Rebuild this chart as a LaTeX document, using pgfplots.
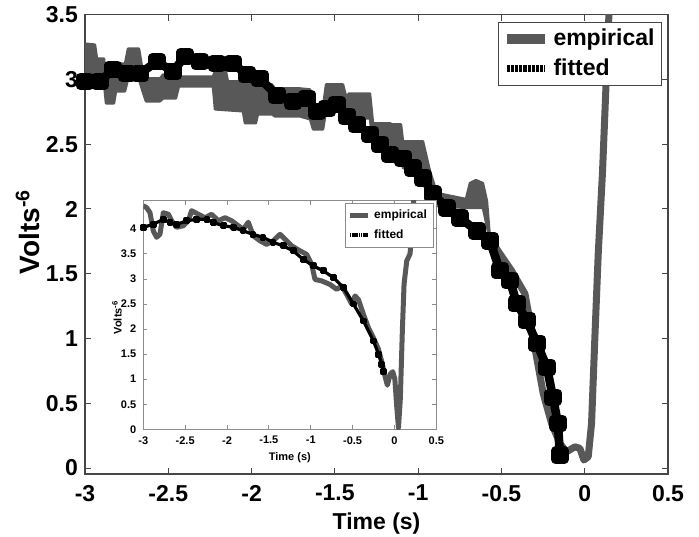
\documentclass[border=0pt]{standalone}
\usepackage{pgfplots}
\pgfplotsset{compat=1.18}
\usepackage{fontspec}
\setmainfont{Liberation Sans}
\definecolor{emp}{RGB}{88,88,88}
\definecolor{frame}{RGB}{70,70,70}
\begin{document}
\begin{tikzpicture}
\path[use as bounding box] (-42.5pt,-31pt) rectangle (307pt,237pt);
% ---------------- main axis ----------------
\begin{axis}[
  at={(0,0)}, anchor=south west,
  scale only axis, width=291.5pt, height=229.65pt,
  xmin=-3, xmax=0.5, ymin=-0.046, ymax=3.5,
  xtick={-3,-2.5,-2,-1.5,-1,-0.5,0,0.5},
  ytick={0,0.5,1,1.5,2,2.5,3,3.5},
  /pgf/number format/assume math mode=true,
  tick align=inside, major tick length=3pt,
  axis line style={frame, line width=0.6pt},
  every tick/.style={frame, line width=0.5pt},
  ticklabel style={font=\fontsize{11.5}{13}\selectfont\bfseries},
  xticklabel style={yshift=-2pt},
  xlabel={Time (s)},
  ylabel={Volts\textsuperscript{-6}},
  xlabel style={font=\fontsize{11.5}{13}\selectfont\bfseries, at={(axis description cs:0.5,-0.107)}, anchor=center},
  ylabel style={font=\fontsize{14}{16}\selectfont\bfseries, at={(axis description cs:-0.098,0.527)}, anchor=center, rotate=0},
  legend style={at={(1,1)}, anchor=north east, xshift=-3pt, yshift=-3.5pt,
    draw=frame, line width=0.5pt, fill=white,
    font=\fontsize{11.5}{13}\selectfont\bfseries,
    inner sep=1.5pt, row sep=1pt},
  legend cell align=left,
]
\addlegendimage{legend image code/.code={\draw[emp, line width=5pt] (0pt,0pt) -- (19pt,0pt);}}
\addlegendentry{empirical}
\addlegendimage{legend image code/.code={\draw[black, line width=3.5pt, dash pattern=on 1.6pt off 0.5pt] (0pt,0pt) -- (19pt,0pt);}}
\addlegendentry{fitted}

% empirical: noisy band (upper envelope forward, lower envelope back)
\addplot[forget plot, draw=emp, fill=emp, line width=1.2pt, line join=round] coordinates {
(-3.000,3.277) (-2.940,3.269) (-2.928,3.162) (-2.886,3.162) (-2.874,3.008) (-2.826,3.008)
(-2.814,3.123) (-2.760,3.123) (-2.742,3.238) (-2.676,3.238) (-2.658,3.100) (-2.634,3.008)
(-2.550,3.008) (-2.532,3.038) (-2.454,3.038) (-2.436,3.023) (-2.232,3.023) (-2.220,3.062)
(-2.154,3.062) (-2.142,2.985) (-1.974,2.985) (-1.962,2.962) (-1.878,2.962) (-1.860,2.931)
(-1.710,2.931) (-1.649,2.923) (-1.631,2.792) (-1.571,2.792) (-1.553,2.962) (-1.451,2.962)
(-1.433,2.869) (-1.415,2.892) (-1.289,2.892) (-1.271,2.662) (-1.169,2.662) (-1.157,2.654)
(-1.103,2.654) (-1.091,2.523) (-0.971,2.523) (-0.929,2.292) (-0.887,2.123) (-0.713,2.077)
(-0.689,2.200) (-0.653,2.223) (-0.611,2.200) (-0.587,2.062) (-0.569,1.777)
(-0.569,1.754) (-0.611,2.008) (-0.713,2.008) (-0.887,2.023) (-0.929,2.177) (-0.971,2.315)
(-1.091,2.315) (-1.103,2.446) (-1.169,2.469) (-1.271,2.469) (-1.289,2.700) (-1.433,2.700)
(-1.451,2.754) (-1.553,2.754) (-1.571,2.615) (-1.631,2.615) (-1.649,2.692) (-1.710,2.715)
(-1.860,2.715) (-1.878,2.731) (-1.962,2.731) (-1.974,2.662) (-2.040,2.662) (-2.052,2.754)
(-2.220,2.769) (-2.232,2.946) (-2.436,2.946) (-2.454,2.854) (-2.532,2.854) (-2.550,2.831)
(-2.634,2.831) (-2.658,2.923) (-2.676,3.000) (-2.742,3.000) (-2.760,2.908) (-2.814,2.908)
(-2.826,2.815) (-2.874,2.815) (-2.886,2.969) (-2.940,2.985) (-3.000,2.985)
} -- cycle;
% empirical: thick line part
\addplot[forget plot, emp, line width=3.5pt, line join=round] coordinates {
(-0.569,1.770) (-0.521,1.677) (-0.439,1.523) (-0.359,1.346) (-0.329,1.138) (-0.289,0.856)
(-0.249,0.575) (-0.199,0.344) (-0.149,0.190) (-0.109,0.125) (-0.059,0.164) (-0.029,0.152)
(-0.005,0.062) (0.021,0.087) (0.041,0.344) (0.061,1.010) (0.081,1.652) (0.107,2.292)
(0.127,2.931) (0.145,3.492) (0.150,3.600)
};
% fitted
\addplot[forget plot, black, line width=4.3pt, line join=round, mark=square*, mark size=2.2pt, mark options={solid}] coordinates {
(-3.000,2.985) (-2.910,2.985) (-2.832,3.077) (-2.748,3.046) (-2.670,3.046) (-2.568,3.138)
(-2.472,3.062) (-2.400,3.177) (-2.310,3.138) (-2.208,3.123) (-2.112,3.123) (-2.028,3.038)
(-1.950,3.008) (-1.848,2.877) (-1.752,2.831) (-1.667,2.854) (-1.607,2.754) (-1.547,2.777)
(-1.487,2.808) (-1.427,2.715) (-1.367,2.654) (-1.289,2.577) (-1.229,2.500) (-1.169,2.423)
(-1.091,2.392) (-1.031,2.315) (-0.971,2.238) (-0.911,2.115) (-0.827,2.008) (-0.749,1.931)
(-0.647,1.831) (-0.569,1.754) (-0.509,1.523) (-0.449,1.446) (-0.407,1.269) (-0.347,1.138)
(-0.287,0.962) (-0.227,0.777) (-0.191,0.546) (-0.161,0.346) (-0.149,0.100)
};
\end{axis}
% ---------------- inset axis ----------------
\begin{axis}[
  at={(29.15pt,22.35pt)}, anchor=south west,
  scale only axis, width=146.5pt, height=114.3pt,
  xmin=-3, xmax=0.5, ymin=0, ymax=4.56,
  axis background/.style={fill=white},
  xtick={-3,-2.5,-2,-1.5,-1,-0.5,0,0.5},
  ytick={0,0.5,1,1.5,2,2.5,3,3.5,4},
  /pgf/number format/assume math mode=true,
  tick align=inside, major tick length=2pt,
  axis line style={black!45, line width=0.5pt},
  every tick/.style={black!45, line width=0.4pt},
  ticklabel style={font=\fontsize{5.5}{6.5}\selectfont\bfseries},
  xlabel={Time (s)},
  ylabel={Volts\textsuperscript{-6}},
  xlabel style={font=\fontsize{5.5}{6.5}\selectfont\bfseries, at={(axis description cs:0.5,-0.125)}, anchor=center},
  ylabel style={font=\fontsize{5.5}{6.5}\selectfont\bfseries, at={(axis description cs:-0.09,0.49)}, anchor=center, rotate=0},
  legend style={at={(1,1)}, anchor=north east, xshift=-1.5pt, yshift=-1.3pt,
    draw=black!45, line width=0.4pt, fill=white,
    font=\fontsize{6}{7}\selectfont\bfseries,
    inner sep=1pt, row sep=0pt},
  legend cell align=left,
]
\addlegendimage{legend image code/.code={\draw[emp, line width=2.5pt] (0pt,0pt) -- (9pt,0pt);}}
\addlegendentry{empirical}
\addlegendimage{legend image code/.code={\draw[black, line width=1.8pt, dash pattern=on 0.8pt off 0.3pt] (0pt,0pt) -- (9pt,0pt);}}
\addlegendentry{fitted}
\addplot[forget plot, emp, line width=2.5pt, line join=round] coordinates {
(-3.000,4.46) (-2.960,4.42) (-2.920,4.32) (-2.881,3.96) (-2.841,3.83) (-2.801,3.89)
(-2.761,4.32) (-2.701,4.29) (-2.661,4.16) (-2.602,4.03) (-2.522,4.06) (-2.462,4.16)
(-2.423,4.36) (-2.343,4.29) (-2.263,4.22) (-2.184,4.29) (-2.104,4.16) (-2.024,4.22)
(-1.945,4.16) (-1.865,4.06) (-1.805,3.99) (-1.746,4.13) (-1.686,3.86) (-1.606,3.76)
(-1.527,3.69) (-1.447,3.76) (-1.367,3.89) (-1.307,3.79) (-1.228,3.66) (-1.128,3.56)
(-1.049,3.49) (-0.989,3.29) (-0.949,2.99) (-0.869,2.96) (-0.770,2.89) (-0.690,2.79)
(-0.630,2.86) (-0.571,2.69) (-0.511,2.50) (-0.471,2.66) (-0.431,2.59) (-0.372,2.30)
(-0.312,2.03) (-0.252,1.83) (-0.192,1.60) (-0.153,1.36) (-0.113,1.06) (-0.085,0.88)
(-0.050,1.10) (-0.020,1.15) (0.005,1.00) (0.025,0.50) (0.048,0.03) (0.070,0.60)
(0.095,2.00) (0.115,2.90) (0.147,3.36) (0.186,3.50) (0.207,3.90) (0.226,4.42) (0.235,4.70)
};
\addplot[forget plot, black, line width=1.6pt, line join=round, mark=square*, mark size=0.9pt, mark options={solid}] coordinates {
(-3.00,4.03) (-2.88,4.09) (-2.76,4.19) (-2.68,4.12) (-2.60,4.09) (-2.48,4.16) (-2.36,4.19)
(-2.24,4.19) (-2.16,4.12) (-2.04,4.06) (-1.92,4.03) (-1.81,3.96) (-1.69,3.89) (-1.57,3.83)
(-1.45,3.73) (-1.33,3.66) (-1.21,3.56) (-1.09,3.39) (-0.97,3.26) (-0.85,3.16) (-0.73,3.03)
(-0.61,2.83) (-0.49,2.50) (-0.37,2.16) (-0.25,1.76) (-0.19,1.50) (-0.15,1.30) (-0.13,1.16)
};
\end{axis}
\end{tikzpicture}
\end{document}
